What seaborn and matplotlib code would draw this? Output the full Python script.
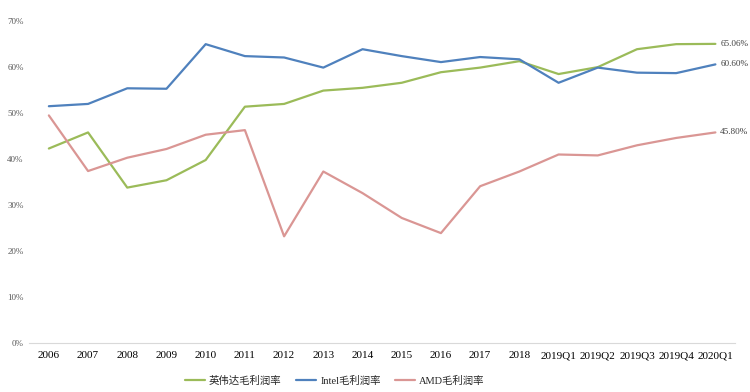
import numpy as np
import pandas as pd
import matplotlib
matplotlib.use("Agg")
import matplotlib.pyplot as plt
import seaborn as sns

categories = ["2006", "2007", "2008", "2009", "2010", "2011", "2012", "2013", "2014",
              "2015", "2016", "2017", "2018", "2019Q1", "2019Q2", "2019Q3", "2019Q4", "2020Q1"]
nvidia = [42.3, 45.8, 33.8, 35.4, 39.8, 51.4, 52.0, 54.9, 55.5, 56.6, 58.9, 59.9, 61.3,
          58.5, 60.0, 63.9, 65.0, 65.06]
intel = [51.5, 52.0, 55.4, 55.3, 65.0, 62.4, 62.1, 59.9, 63.9, 62.4, 61.1, 62.2, 61.7,
         56.6, 59.9, 58.8, 58.7, 60.60]
amd = [49.5, 37.4, 40.3, 42.2, 45.3, 46.3, 23.2, 37.3, 32.6, 27.2, 23.9, 34.1, 37.3,
       41.0, 40.8, 43.0, 44.6, 45.80]
series_names = ["英伟达毛利润率", "Intel毛利润率", "AMD毛利润率"]
end_labels = ["65.06%", "60.60%", "45.80%"]
colors = ["#9BBB59", "#4F81BD", "#DA9694"]

sns.set_style("white")
plt.rcParams["font.family"] = ["Liberation Serif", "Noto Sans CJK SC"]

df = pd.DataFrame({
    "cat": categories * 3,
    "val": nvidia + intel + amd,
    "series": [s for s in series_names for _ in categories],
})

fig = plt.figure(figsize=(7.5, 3.92), dpi=100)
ax = fig.add_axes([0.039, 0.125, 0.941, 0.821])

sns.lineplot(data=df, x="cat", y="val", hue="series", palette=colors,
             hue_order=series_names, sort=False, linewidth=1.6, ax=ax)

ax.set_xlim(-0.5, len(categories) - 0.5)
ax.set_ylim(0, 70)
ax.set_yticks(np.arange(0, 71, 10))
ax.set_yticklabels([f"{v}%" for v in range(0, 71, 10)], fontsize=6.5, color="#595959")
ax.set_xticks(range(len(categories)))
ax.set_xticklabels(categories, fontsize=8, color="black")
ax.set_xticks(np.arange(-0.5, len(categories), 1), minor=True)
ax.tick_params(axis="x", which="major", length=0, pad=6)
ax.tick_params(axis="x", which="minor", length=4, color="#BFBFBF", direction="out")
ax.tick_params(axis="y", length=0, pad=4)
ax.set_xlabel("")
ax.set_ylabel("")
for side in ["top", "right", "left"]:
    ax.spines[side].set_visible(False)
ax.spines["bottom"].set_color("#D9D9D9")
ax.spines["bottom"].set_linewidth(0.8)

last = len(categories) - 1
for vals, lab in zip([nvidia, intel, amd], end_labels):
    ax.annotate(lab, (last, vals[-1]), xytext=(3.5, 0), textcoords="offset points",
                fontsize=6.6, color="#404040", va="center", ha="left", annotation_clip=False)

handles, labels = ax.get_legend_handles_labels()
ax.legend(handles, labels, loc="center", bbox_to_anchor=(0.433, -0.118), ncol=3,
          frameon=False, fontsize=7.5, handlelength=1.9, columnspacing=1.4,
          handletextpad=0.4)

fig.savefig("out.png", dpi=100)
